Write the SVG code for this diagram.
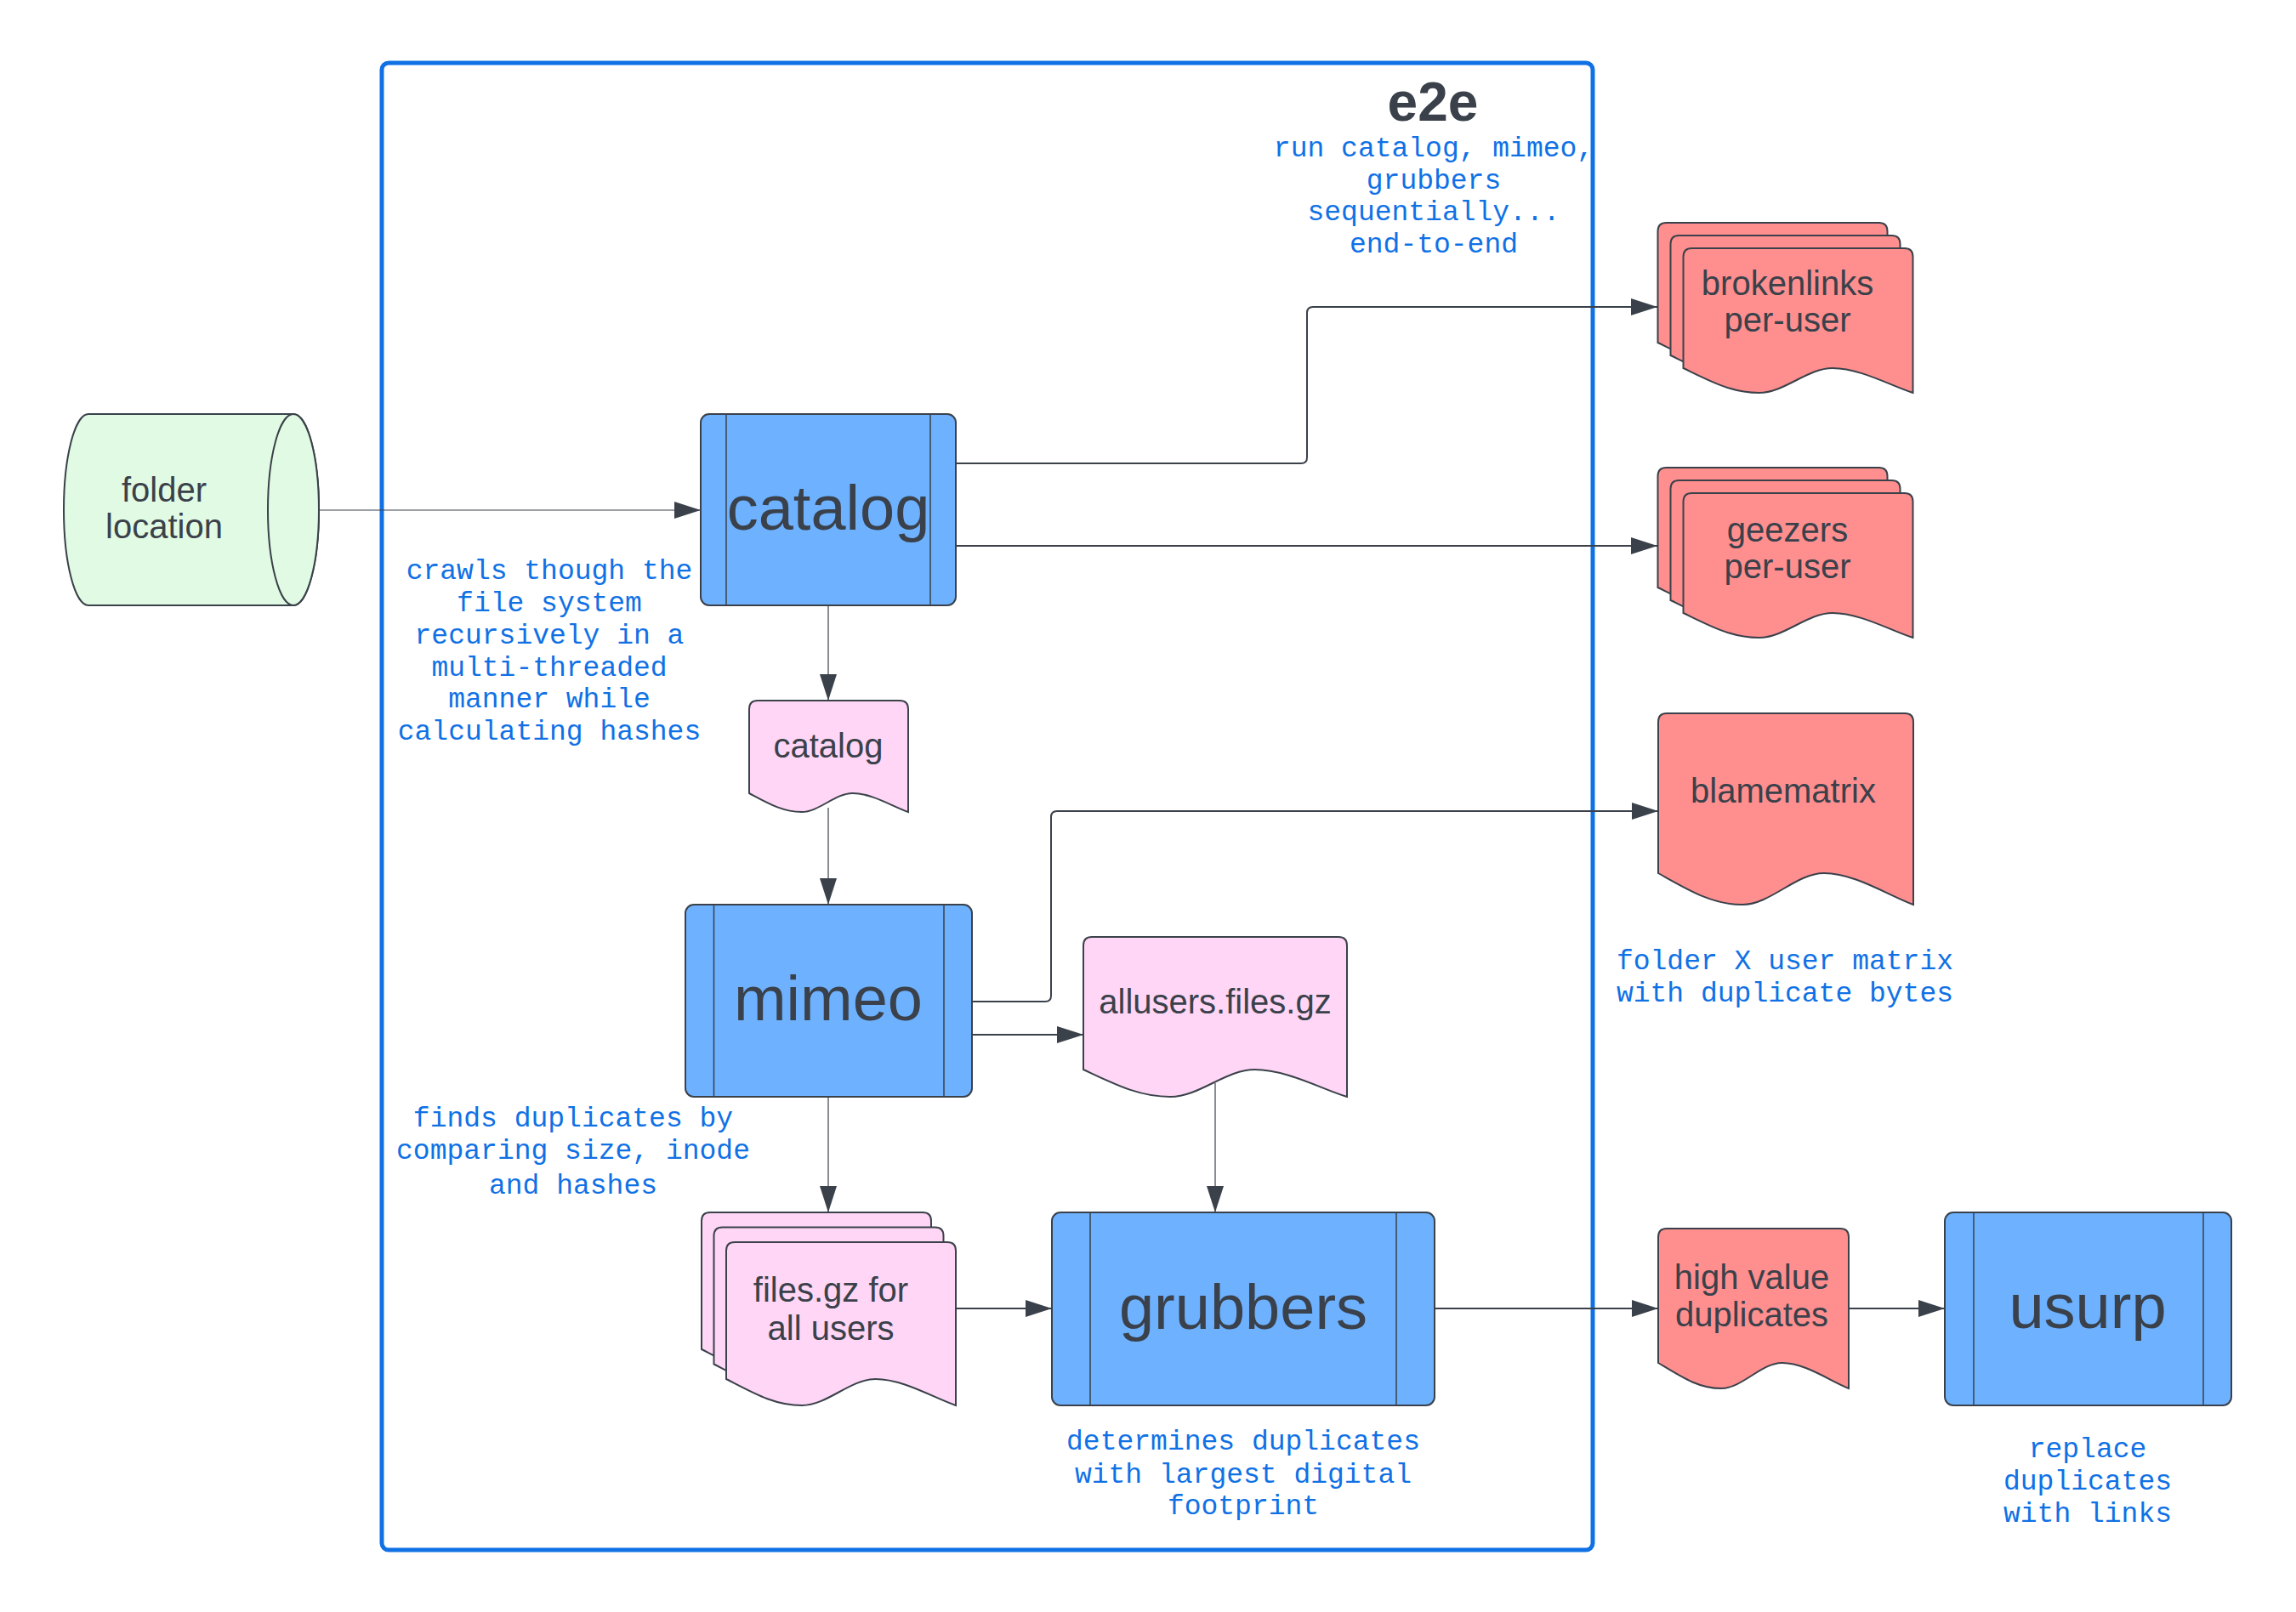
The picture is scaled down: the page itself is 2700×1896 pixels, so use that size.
<svg xmlns="http://www.w3.org/2000/svg" xmlns:xlink="http://www.w3.org/1999/xlink" width="2700" height="1896" viewBox="0 0 2700 1896">
<style>
.bg{fill:#ffffff}
.frame{fill:none;stroke:#1071E5;stroke-width:5}
.proc{fill:#6DB1FF;stroke:#3A414A;stroke-width:2}
.bar{fill:none;stroke:#3A414A;stroke-width:1.5}
.red{fill:#FF8F8F;stroke:#3A414A;stroke-width:2}
.pink{fill:#FFD6F5;stroke:#3A414A;stroke-width:2}
.green{fill:#E1FAE3;stroke:#3A414A;stroke-width:2}
.big{font-family:"Liberation Sans",Arial,sans-serif;font-size:74px;fill:#3A414A;text-anchor:middle}
.lbl{font-family:"Liberation Sans",Arial,sans-serif;font-size:40px;fill:#3A414A;text-anchor:middle}
.ttl{font-family:"Liberation Sans",Arial,sans-serif;font-size:64px;font-weight:bold;fill:#3A414A;text-anchor:middle}
.note{font-family:"Liberation Mono","Courier New",monospace;font-size:33px;fill:#1071E5;text-anchor:middle}
.c1{fill:none;stroke:#3A414A;stroke-width:1.2;marker-end:url(#ah)}
.c2{fill:none;stroke:#3A414A;stroke-width:2;marker-end:url(#ah)}
</style>
<defs>
<marker id="ah" markerUnits="userSpaceOnUse" markerWidth="31" markerHeight="20" viewBox="0 0 31 20" refX="31" refY="10" orient="auto"><path d="M0,0 L31,10 L0,20 Z" fill="#3A414A"/></marker>
<path id="sheet170" d="M0,141 V10 Q0,0 10,0 H260 Q270,0 270,10 V170 C243,161.3 207.9,141 175.5,141 C145.8,141 118.8,170 89.1,170 C56.7,170 32.4,156.7 0,141 Z"/>
<path id="sheet192" d="M0,161 V10 Q0,0 10,0 H260 Q270,0 270,10 V192 C243,182.7 207.9,161 175.5,161 C145.8,161 118.8,192 89.1,192 C56.7,192 32.4,177.7 0,161 Z"/>
</defs>
<rect class="bg" x="0" y="0" width="2700" height="1896"/>

<g id="e2e">
<rect class="frame" x="449" y="74" width="1424" height="1749" rx="8"/>
<text class="ttl" x="1685" y="142">e2e</text>
<text class="note" x="1686" y="184">run catalog, mimeo,</text>
<text class="note" x="1686" y="221.5">grubbers</text>
<text class="note" x="1686" y="259">sequentially...</text>
<text class="note" x="1686" y="296.5">end-to-end</text>
</g>

<g id="connectors">
<path class="c1" d="M375,600 H824"/>
<path class="c2" d="M1125,545 H1530 Q1537,545 1537,538 V368 Q1537,361 1544,361 H1949"/>
<path class="c2" d="M1125,642 H1949"/>
<path class="c1" d="M974,712 V824"/>
<path class="c1" d="M974,950 V1064"/>
<path class="c2" d="M1143,1178 H1229 Q1236,1178 1236,1171 V961 Q1236,954 1243,954 H1950"/>
<path class="c2" d="M1143,1217 H1274"/>
<path class="c1" d="M974,1291 V1426"/>
<path class="c1" d="M1429,1274 V1426"/>
<path class="c2" d="M1124,1539 H1237"/>
<path class="c2" d="M1687,1539 H1950"/>
<path class="c2" d="M2174,1539 H2287"/>
</g>

<g id="folder-location">
<path class="green" d="M104,487 H345 A30,112.5 0 0 1 345,712 H104 A29,112.5 0 0 1 104,487 Z"/>
<ellipse class="green" cx="345" cy="599.5" rx="30" ry="112.5"/>
<text class="lbl" x="193" y="590">folder</text>
<text class="lbl" x="193" y="633">location</text>
</g>

<g id="catalog">
<rect class="proc" x="824" y="487" width="300" height="225" rx="10"/>
<path class="bar" d="M854,487 V712 M1094,487 V712"/>
<text class="big" x="974" y="623">catalog</text>
<text class="note" x="646" y="681">crawls though the</text>
<text class="note" x="646" y="719">file system</text>
<text class="note" x="646" y="756.5">recursively in a</text>
<text class="note" x="646" y="794.5">multi-threaded</text>
<text class="note" x="646" y="832">manner while</text>
<text class="note" x="646" y="870">calculating hashes</text>
</g>

<g id="catalog-doc">
<path class="pink" transform="translate(881,824)" d="M0,109 V10 Q0,0 10,0 H177 Q187,0 187,10 V131 C168.3,124.4 144,109 121.6,109 C101,109 82.3,131 61.7,131 C39.3,131 22.4,120.9 0,109 Z"/>
<text class="lbl" x="974" y="891">catalog</text>
</g>

<g id="mimeo">
<rect class="proc" x="806" y="1064" width="337" height="226" rx="10"/>
<path class="bar" d="M839.5,1064 V1290 M1110,1064 V1290"/>
<text class="big" x="974" y="1200">mimeo</text>
<text class="note" x="674" y="1325">finds duplicates by</text>
<text class="note" x="674" y="1363">comparing size, inode</text>
<text class="note" x="674" y="1404">and hashes</text>
</g>

<g id="allusers-files">
<path class="pink" transform="translate(1274,1102)" d="M0,156 V10 Q0,0 10,0 H300 Q310,0 310,10 V188 C279,178.4 238.7,156 201.5,156 C167.4,156 136.4,188 102.3,188 C65.1,188 37.2,173.3 0,156 Z"/>
<text class="lbl" x="1429" y="1192">allusers.files.gz</text>
</g>

<g id="files-gz">
<use href="#sheet192" xlink:href="#sheet192" class="pink" x="825" y="1426"/>
<use href="#sheet192" xlink:href="#sheet192" class="pink" x="839.5" y="1443.5"/>
<use href="#sheet192" xlink:href="#sheet192" class="pink" x="854" y="1461"/>
<text class="lbl" x="977" y="1531">files.gz for</text>
<text class="lbl" x="977" y="1576">all users</text>
</g>

<g id="grubbers">
<rect class="proc" x="1237" y="1426" width="450" height="227" rx="10"/>
<path class="bar" d="M1282,1426 V1653 M1642,1426 V1653"/>
<text class="big" x="1462" y="1563">grubbers</text>
<text class="note" x="1462" y="1705">determines duplicates</text>
<text class="note" x="1462" y="1743.5">with largest digital</text>
<text class="note" x="1462" y="1781">footprint</text>
</g>

<g id="brokenlinks">
<use href="#sheet170" xlink:href="#sheet170" class="red" x="1949.5" y="262"/>
<use href="#sheet170" xlink:href="#sheet170" class="red" x="1964.5" y="277"/>
<use href="#sheet170" xlink:href="#sheet170" class="red" x="1979.5" y="292"/>
<text class="lbl" x="2102" y="347">brokenlinks</text>
<text class="lbl" x="2102" y="390">per-user</text>
</g>

<g id="geezers">
<use href="#sheet170" xlink:href="#sheet170" class="red" x="1949.5" y="550"/>
<use href="#sheet170" xlink:href="#sheet170" class="red" x="1964.5" y="565"/>
<use href="#sheet170" xlink:href="#sheet170" class="red" x="1979.5" y="580"/>
<text class="lbl" x="2102" y="637">geezers</text>
<text class="lbl" x="2102" y="680">per-user</text>
</g>

<g id="blamematrix">
<path class="red" transform="translate(1950,839)" d="M0,188 V10 Q0,0 10,0 H290 Q300,0 300,10 V225 C270,213.9 231,188 195,188 C162,188 132,225 99,225 C63,225 36,208 0,188 Z"/>
<text class="lbl" x="2097" y="944">blamematrix</text>
<text class="note" x="2099" y="1140">folder X user matrix</text>
<text class="note" x="2099" y="1177.5">with duplicate bytes</text>
</g>

<g id="high-value-duplicates">
<path class="red" transform="translate(1950,1445)" d="M0,158 V10 Q0,0 10,0 H214 Q224,0 224,10 V188 C201.6,179 172.5,158 145.6,158 C121,158 98.6,188 73.9,188 C47,188 26.9,174.2 0,158 Z"/>
<text class="lbl" x="2060" y="1516">high value</text>
<text class="lbl" x="2060" y="1560">duplicates</text>
</g>

<g id="usurp">
<rect class="proc" x="2287" y="1426" width="337" height="227" rx="10"/>
<path class="bar" d="M2321,1426 V1653 M2591,1426 V1653"/>
<text class="big" x="2455" y="1562">usurp</text>
<text class="note" x="2455" y="1714">replace</text>
<text class="note" x="2455" y="1752">duplicates</text>
<text class="note" x="2455" y="1790">with links</text>
</g>
</svg>
